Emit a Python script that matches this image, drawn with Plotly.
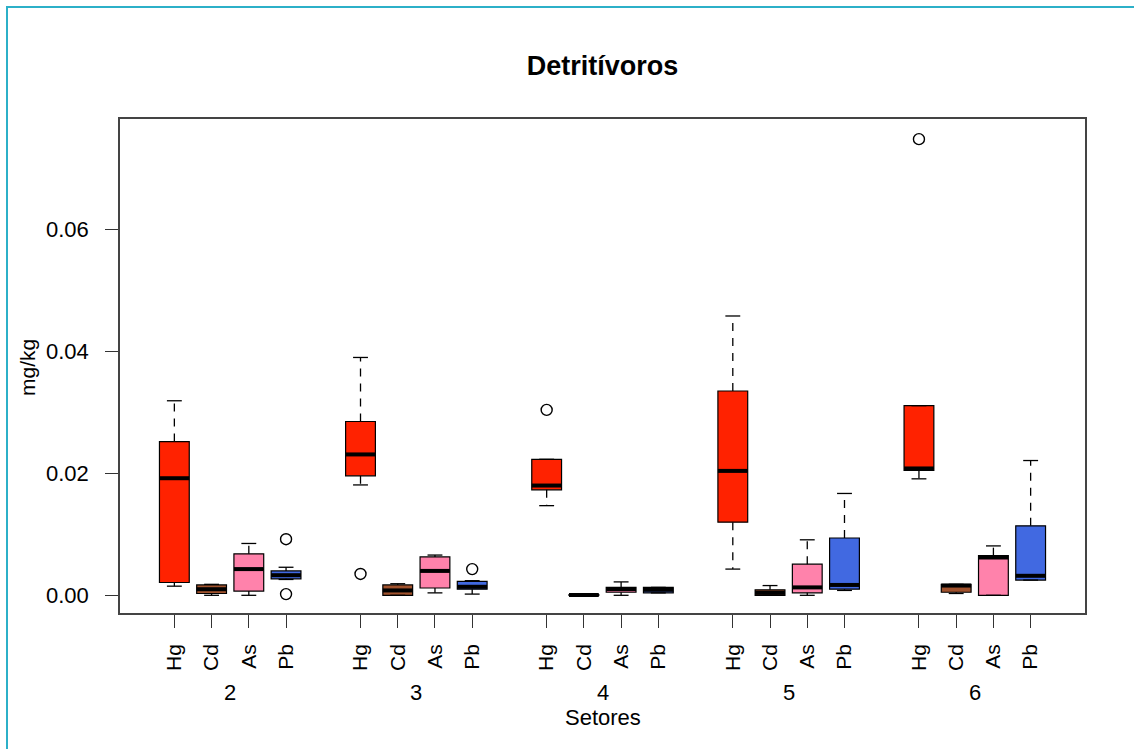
import plotly.graph_objects as go

# Sectors and metals
setores = ["2", "3", "4", "5", "6"]
metais = ["Hg", "Cd", "As", "Pb"]
cores = {"Hg": "#FF2200", "Cd": "#A0522D", "As": "#FF82AB", "Pb": "#4169E1"}

# Box statistics (mg/kg) per metal, one value per sector
lower = {
    "Hg": [0.0015, 0.0181, 0.0147, 0.0043, 0.0191],
    "Cd": [0.0000, 0.0000, 0.0000, 0.0000, 0.0003],
    "As": [0.0000, 0.0004, 0.0000, 0.0000, 0.0000],
    "Pb": [0.0026, 0.0002, 0.0004, 0.0008, 0.0025],
}
q1 = {
    "Hg": [0.0021, 0.0196, 0.0173, 0.0120, 0.0205],
    "Cd": [0.0003, 0.0000, 0.0000, 0.0000, 0.0005],
    "As": [0.0007, 0.0012, 0.0005, 0.0004, 0.0000],
    "Pb": [0.0027, 0.0010, 0.0004, 0.0010, 0.0025],
}
mediana = {
    "Hg": [0.0192, 0.0231, 0.0180, 0.0204, 0.0208],
    "Cd": [0.0010, 0.0008, 0.00005, 0.0004, 0.0016],
    "As": [0.0043, 0.0040, 0.0010, 0.0013, 0.0062],
    "Pb": [0.0033, 0.0014, 0.0009, 0.0017, 0.0032],
}
q3 = {
    "Hg": [0.0252, 0.0285, 0.0223, 0.0335, 0.0311],
    "Cd": [0.0017, 0.0017, 0.0001, 0.0009, 0.0018],
    "As": [0.0068, 0.0063, 0.0013, 0.0051, 0.0065],
    "Pb": [0.0040, 0.0023, 0.0013, 0.0094, 0.0114],
}
upper = {
    "Hg": [0.0319, 0.0390, 0.0223, 0.0458, 0.0311],
    "Cd": [0.0018, 0.0019, 0.0001, 0.0016, 0.0018],
    "As": [0.0085, 0.0066, 0.0022, 0.0091, 0.0081],
    "Pb": [0.0046, 0.0024, 0.0013, 0.0167, 0.0221],
}
# Outliers: (sector, metal, value)
outliers = [
    ("3", "Hg", 0.0035),
    ("4", "Hg", 0.0304),
    ("6", "Hg", 0.0748),
    ("2", "Pb", 0.0092),
    ("2", "Pb", 0.0002),
    ("3", "Pb", 0.0043),
]

BOXW = 0.8
CAPW = 0.2


def pos(si, mi):
    return si * 5 + mi + 1


fig = go.Figure()

for mi, m in enumerate(metais):
    xs = [pos(si, mi) for si in range(len(setores))]
    # Whiskers (dashed) and caps
    wx, wy, cx, cy = [], [], [], []
    for si, x in enumerate(xs):
        if upper[m][si] > q3[m][si]:
            wx += [x, x, None]
            wy += [q3[m][si], upper[m][si], None]
        if lower[m][si] < q1[m][si]:
            wx += [x, x, None]
            wy += [q1[m][si], lower[m][si], None]
        cx += [x - CAPW, x + CAPW, None, x - CAPW, x + CAPW, None]
        cy += [upper[m][si], upper[m][si], None, lower[m][si], lower[m][si], None]
    fig.add_trace(go.Scatter(x=wx, y=wy, mode="lines", showlegend=False,
                             line=dict(color="black", width=1.3, dash="8px,7px"),
                             hoverinfo="skip"))
    fig.add_trace(go.Scatter(x=cx, y=cy, mode="lines", showlegend=False,
                             line=dict(color="black", width=1.3), hoverinfo="skip"))
    # Boxes
    fig.add_trace(go.Box(
        x=xs, q1=q1[m], median=mediana[m], q3=q3[m],
        lowerfence=q1[m], upperfence=q3[m],
        width=BOXW, fillcolor=cores[m], whiskerwidth=0,
        line=dict(color="black", width=1.2), boxpoints=False,
        name=m, showlegend=False,
    ))
    # Thick median lines
    mx, my = [], []
    for si, x in enumerate(xs):
        mx += [x - BOXW / 2, x + BOXW / 2, None]
        my += [mediana[m][si], mediana[m][si], None]
    fig.add_trace(go.Scatter(x=mx, y=my, mode="lines", showlegend=False,
                             line=dict(color="black", width=4), hoverinfo="skip"))

# Outlier points
ox = [pos(setores.index(s), metais.index(m)) for s, m, v in outliers]
oy = [v for s, m, v in outliers]
fig.add_trace(go.Scatter(x=ox, y=oy, mode="markers", showlegend=False,
                         marker=dict(symbol="circle-open", size=11, color="black",
                                     line=dict(width=1.4))))

tickvals = [pos(si, mi) for si in range(len(setores)) for mi in range(len(metais))]
ticktext = [m for _ in setores for m in metais]

FONT = "Liberation Sans, Arial, sans-serif"

L, T, W, H = 120, 119, 965, 494

annotations = []
for si, s in enumerate(setores):
    annotations.append(dict(x=si * 5 + 2.5, xref="x", y=0, yref="paper", yshift=-79,
                            text=s, showarrow=False, yanchor="middle",
                            font=dict(size=22, color="black", family=FONT)))
annotations.append(dict(x=12.5, xref="x", y=0, yref="paper", yshift=-104,
                        text="Setores", showarrow=False, yanchor="middle",
                        font=dict(size=22, color="black", family=FONT)))
annotations.append(dict(x=0, xref="paper", xshift=-93, y=(T + H - 368) / H, yref="paper",
                        text="mg/kg", textangle=-90, showarrow=False,
                        xanchor="center", yanchor="middle",
                        font=dict(size=21, color="black", family=FONT)))

# Teal frame around the figure
shapes = [dict(type="rect", xref="paper", yref="paper",
               x0=(7 - L) / W, x1=(1145 - L) / W,
               y0=(T + H - 760) / H, y1=(T + H - 7) / H,
               line=dict(color="#2CB0C8", width=2), fillcolor="rgba(0,0,0,0)",
               layer="below")]

fig.update_layout(
    width=1134, height=749,
    margin=dict(l=L, r=1134 - L - W, t=T, b=749 - T - H),
    paper_bgcolor="white", plot_bgcolor="white",
    boxmode="overlay",
    title=dict(text="<b>Detritívoros</b>", x=0.5, xref="paper",
               y=1 - 66 / 749, yref="container", yanchor="middle", xanchor="center",
               font=dict(size=27, color="black", family=FONT)),
    font=dict(family=FONT, color="black"),
    annotations=annotations,
    shapes=shapes,
    xaxis=dict(range=[-0.46, 25.46], tickvals=tickvals, ticktext=ticktext,
               tickangle=-90, ticks="outside", ticklen=13, tickcolor="#333",
               tickfont=dict(size=21, color="black", family=FONT),
               ticklabelstandoff=8,
               showgrid=False, zeroline=False, showline=True, mirror=True,
               linecolor="#444", linewidth=1.5),
    yaxis=dict(range=[-0.0029, 0.0781], tickvals=[0, 0.02, 0.04, 0.06],
               ticktext=["0.00", "0.02", "0.04", "0.06"],
               ticks="outside", ticklen=13, tickcolor="#333",
               tickfont=dict(size=22, color="black", family=FONT),
               ticklabelstandoff=12,
               showgrid=False, zeroline=False, showline=True, mirror=True,
               linecolor="#444", linewidth=1.5),
)

fig.write_html("out.html")
